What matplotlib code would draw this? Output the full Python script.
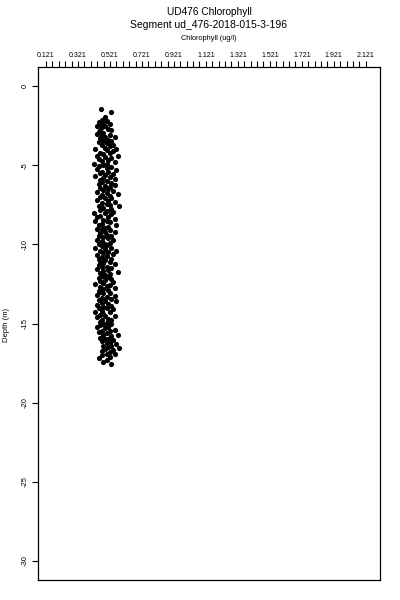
import matplotlib
matplotlib.use("Agg")
import matplotlib.pyplot as plt

title_lines = ["UD476 Chlorophyll", "Segment ud_476-2018-015-3-196"]
x_label = "Chlorophyll (ug/l)"
y_label = "Depth (m)"
x_major_ticks = [0.121, 0.321, 0.521, 0.721, 0.921, 1.121, 1.321, 1.521, 1.721, 1.921, 2.121]
x_tick_labels = ["0.121", "0.321", "0.521", "0.721", "0.921", "1.121", "1.321", "1.521", "1.721", "1.921", "2.121"]
y_ticks = [0, -5, -10, -15, -20, -25, -30]

depth = [
    -1.45, -1.62, -1.95,
    -2.15, -2.2, -2.25, -2.3, -2.35, -2.4, -2.5, -2.55, -2.6, -2.7, -2.75, -2.8, -2.9, -2.95,
    -3.0, -3.05, -3.1, -3.2, -3.25, -3.3, -3.4, -3.45, -3.5, -3.55, -3.6, -3.7, -3.75, -3.8, -3.9, -3.95,
    -4.0, -4.05, -4.1, -4.2, -4.25, -4.3, -4.4, -4.45, -4.5, -4.55, -4.6, -4.7, -4.75, -4.8, -4.9, -4.95,
    -5.0, -5.05, -5.1, -5.2, -5.25, -5.3, -5.4, -5.45, -5.5, -5.55, -5.6, -5.7, -5.75, -5.8, -5.9, -5.95,
    -6.0, -6.05, -6.1, -6.2, -6.25, -6.3, -6.4, -6.45, -6.5, -6.55, -6.6, -6.7, -6.75, -6.8, -6.9, -6.95,
    -7.0, -7.05, -7.1, -7.2, -7.25, -7.3, -7.4, -7.45, -7.5, -7.55, -7.6, -7.7, -7.75, -7.8, -7.9, -7.95,
    -8.0, -8.05, -8.1, -8.2, -8.25, -8.3, -8.4, -8.45, -8.5, -8.55, -8.6, -8.7, -8.75, -8.8, -8.9, -8.95,
    -9.0, -9.05, -9.1, -9.2, -9.25, -9.3, -9.4, -9.45, -9.5, -9.55, -9.6, -9.7, -9.75, -9.8, -9.9, -9.95,
    -10.0, -10.05, -10.1, -10.2, -10.25, -10.3, -10.4, -10.45, -10.5, -10.55, -10.6, -10.7, -10.75, -10.8, -10.9, -10.95,
    -11.0, -11.05, -11.1, -11.2, -11.25, -11.3, -11.4, -11.45, -11.5, -11.55, -11.6, -11.7, -11.75, -11.8, -11.9, -11.95,
    -12.0, -12.05, -12.1, -12.2, -12.25, -12.3, -12.4, -12.45, -12.5, -12.55, -12.6, -12.7, -12.75, -12.8, -12.9, -12.95,
    -13.0, -13.05, -13.1, -13.2, -13.25, -13.3, -13.4, -13.45, -13.5, -13.55, -13.6, -13.7, -13.75, -13.8, -13.9, -13.95,
    -14.0, -14.05, -14.1, -14.2, -14.25, -14.3, -14.4, -14.45, -14.5, -14.55, -14.6, -14.7, -14.75, -14.8, -14.9, -14.95,
    -15.0, -15.05, -15.1, -15.2, -15.25, -15.3, -15.4, -15.45, -15.5, -15.55, -15.6, -15.7, -15.75, -15.8, -15.9, -15.95,
    -16.0, -16.05, -16.1, -16.2, -16.25, -16.3, -16.4, -16.45, -16.5, -16.55, -16.6, -16.7, -16.75, -16.8, -16.9, -16.95,
    -17.0, -17.1, -17.2, -17.3, -17.45, -17.55,
]

chlorophyll = [
    0.465, 0.525, 0.49,
    0.47, 0.50, 0.45, 0.48, 0.46, 0.52, 0.44, 0.49, 0.47, 0.51, 0.46, 0.53, 0.45, 0.48,
    0.47, 0.44, 0.52, 0.49, 0.55, 0.46, 0.51, 0.48, 0.53, 0.45, 0.50, 0.54, 0.47, 0.52, 0.49, 0.56,
    0.43, 0.50, 0.54, 0.46, 0.52, 0.48, 0.44, 0.57, 0.49, 0.53, 0.45, 0.51, 0.47, 0.55, 0.42, 0.50,
    0.48, 0.45, 0.53, 0.50, 0.44, 0.56, 0.47, 0.51, 0.46, 0.54, 0.49, 0.43, 0.52, 0.48, 0.55, 0.46,
    0.50, 0.47, 0.53, 0.45, 0.55, 0.49, 0.52, 0.46, 0.51, 0.48, 0.54, 0.44, 0.50, 0.57, 0.47, 0.52,
    0.46, 0.53, 0.49, 0.44, 0.51, 0.55, 0.47, 0.50, 0.52, 0.45, 0.58, 0.48, 0.53, 0.46, 0.50, 0.54,
    0.42, 0.49, 0.53, 0.46, 0.51, 0.44, 0.55, 0.48, 0.50, 0.43, 0.52, 0.47, 0.56, 0.45, 0.51, 0.49,
    0.47, 0.44, 0.52, 0.49, 0.55, 0.46, 0.50, 0.53, 0.45, 0.48, 0.51, 0.44, 0.54, 0.47, 0.52, 0.49,
    0.45, 0.50, 0.47, 0.53, 0.43, 0.49, 0.56, 0.46, 0.51, 0.48, 0.54, 0.44, 0.50, 0.47, 0.53, 0.45,
    0.49, 0.46, 0.52, 0.48, 0.55, 0.45, 0.50, 0.47, 0.53, 0.44, 0.51, 0.48, 0.57, 0.46, 0.52, 0.49,
    0.47, 0.51, 0.45, 0.53, 0.49, 0.46, 0.54, 0.48, 0.43, 0.52, 0.50, 0.46, 0.55, 0.48, 0.51, 0.45,
    0.46, 0.52, 0.48, 0.44, 0.55, 0.50, 0.47, 0.53, 0.45, 0.49, 0.56, 0.47, 0.51, 0.44, 0.53, 0.48,
    0.45, 0.50, 0.54, 0.47, 0.43, 0.52, 0.48, 0.46, 0.55, 0.49, 0.44, 0.51, 0.47, 0.53, 0.46, 0.50,
    0.48, 0.53, 0.46, 0.51, 0.44, 0.49, 0.55, 0.47, 0.52, 0.45, 0.50, 0.57, 0.48, 0.53, 0.46, 0.51,
    0.49, 0.54, 0.47, 0.52, 0.50, 0.56, 0.48, 0.53, 0.51, 0.58, 0.49, 0.54, 0.47, 0.52, 0.55, 0.50,
    0.47, 0.52, 0.45, 0.50, 0.48, 0.53,
]

plt.rcParams['font.family'] = ['Liberation Sans', 'DejaVu Sans']

fig = plt.figure(figsize=(4, 6), dpi=100)
ax = fig.add_axes([38/400, 20/600, 342/400, 513/600])

ax.scatter(chlorophyll, depth, s=14, c='black', linewidths=0)

ax.set_xlim(0.071, 2.21)
ax.set_ylim(-31.2, 1.2)

ax.xaxis.tick_top()
ax.xaxis.set_label_position('top')
ax.set_xticks(x_major_ticks)
ax.set_xticklabels(x_tick_labels, fontsize=5)
minor = [x_major_ticks[0] + 0.04 * k for k in range(51)]
ax.set_xticks(minor, minor=True)
ax.tick_params(axis='x', which='both', direction='out', length=4, width=0.8, pad=2)

ax.set_yticks(y_ticks)
ax.set_yticklabels([str(v) for v in y_ticks], fontsize=5.5, rotation=90, va='center')
ax.tick_params(axis='y', direction='out', length=4, width=0.8, pad=3)

for s in ax.spines.values():
    s.set_linewidth(0.9)

fig.text(209/400, 1 - 12/600, title_lines[0], ha='center', va='center', fontsize=7.3)
fig.text(209/400, 1 - 25/600, title_lines[1], ha='center', va='center', fontsize=7.5)
fig.text(209/400, 1 - 39/600, x_label, ha='center', va='center', fontsize=5.3)
fig.text(6/400, 1 - 325/600, y_label, ha='center', va='center', rotation=90, fontsize=5.5)

fig.savefig("out.png", dpi=100)
